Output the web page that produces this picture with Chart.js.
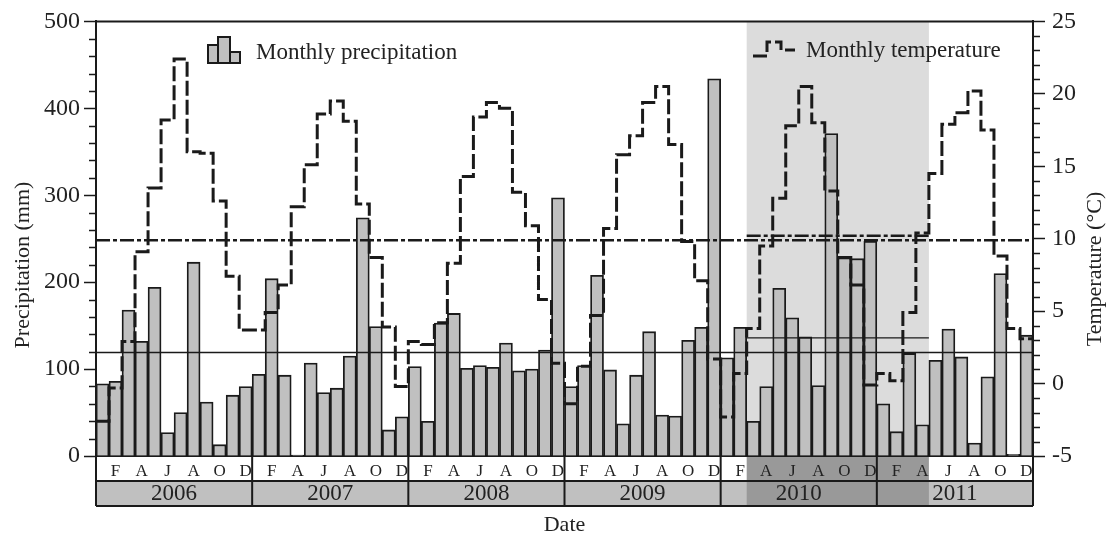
<!DOCTYPE html>
<html>
<head>
<meta charset="utf-8">
<title>Monthly precipitation and temperature 2006-2011</title>
<script src="https://cdn.jsdelivr.net/npm/chart.js@4.4.1/dist/chart.umd.min.js"></script>
<style>
  html, body { margin: 0; padding: 0; background: #fff; }
  #wrap { width: 1110px; height: 540px; }
</style>
</head>
<body>
<div id="wrap"><canvas id="chart" width="1110" height="540"></canvas></div>
<script>
// ===== DATA =====
const years = ['2006', '2007', '2008', '2009', '2010', '2011'];
const monthLetters = ['J', 'F', 'M', 'A', 'M', 'J', 'J', 'A', 'S', 'O', 'N', 'D'];

// monthly precipitation (mm)
const precip2006 = [83, 86, 168, 132, 194, 27, 50, 223, 62, 13, 70, 80];
const precip2007 = [94, 204, 93, 1, 107, 73, 78, 115, 274, 149, 30, 45];
const precip2008 = [103, 40, 153, 164, 101, 104, 102, 130, 98, 100, 122, 297];
const precip2009 = [80, 104, 208, 99, 37, 93, 143, 47, 46, 133, 148, 434];
const precip2010 = [113, 148, 40, 80, 193, 159, 137, 81, 371, 228, 227, 247];
const precip2011 = [60, 28, 118, 36, 110, 146, 114, 15, 91, 210, 2, 139];

// monthly mean temperature (°C)
const temp2006 = [-2.6, -0.3, 2.9, 9.1, 13.5, 18.2, 22.4, 16.0, 15.9, 12.6, 7.4, 3.7];
const temp2007 = [3.7, 4.9, 6.8, 12.2, 15.1, 18.6, 19.5, 18.1, 12.4, 8.7, 3.9, -0.2];
const temp2008 = [2.9, 2.7, 4.2, 8.3, 14.3, 18.4, 19.4, 19.0, 13.2, 10.9, 5.8, 1.4];
const temp2009 = [-1.4, 1.2, 4.7, 10.7, 15.8, 17.1, 19.4, 20.5, 16.5, 9.8, 7.1, 1.7];
const temp2010 = [-2.3, 0.7, 3.8, 9.5, 12.8, 17.8, 20.5, 18.0, 13.3, 8.7, 6.8, -0.1];
const temp2011 = [0.7, 0.2, 4.9, 10.4, 14.5, 17.9, 18.7, 20.2, 17.5, 8.8, 3.8, 3.1];

// long-term means and means of the highlighted period (Mar 2010 - Apr 2011)
const meanPrecip = 119;
const meanTemp = 9.9;
const periodStart = 50;   // month index (0 = Jan 2006)
const periodEnd = 64;
const periodPrecip = 136;
const periodTemp = 10.2;

// ===== BUILD SERIES =====
const precip = [].concat(precip2006, precip2007, precip2008, precip2009, precip2010, precip2011);
const temps = [].concat(temp2006, temp2007, temp2008, temp2009, temp2010, temp2011);
const nMonths = precip.length;

// bars sit in the middle of each month on a linear month axis
const precipBars = precip.map((p, i) => ({ x: i + 0.5, y: p }));
// stepped line: one step per month, closed at the end of the last month
const tempSteps = temps.map((t, i) => ({ x: i, y: t }));
tempSteps.push({ x: nMonths, y: temps[nMonths - 1] });

const FONT = "'Liberation Serif', 'Times New Roman', serif";
const INK = '#1a1a1a';

const hline = (from, to, value) => [{ x: from, y: value }, { x: to, y: value }];

// ===== DRAWING HELPERS (frame, table under the axis, legends) =====
const decorations = {
  id: 'decorations',
  beforeDraw(chart) {
    const ctx = chart.ctx;
    const area = chart.chartArea;
    const x = chart.scales.x;
    const px0 = x.getPixelForValue(periodStart);
    const px1 = x.getPixelForValue(periodEnd);
    ctx.save();
    // shaded period inside the plot
    ctx.fillStyle = '#dcdcdc';
    ctx.fillRect(px0, area.top, px1 - px0, area.bottom - area.top);
    // year row
    ctx.fillStyle = '#c0c0c0';
    ctx.fillRect(area.left, area.bottom + 25, area.right - area.left, 25);
    // shaded period in both rows
    ctx.fillStyle = '#999999';
    ctx.fillRect(px0, area.bottom, px1 - px0, 50);
    ctx.restore();
  },
  afterDraw(chart) {
    const ctx = chart.ctx;
    const area = chart.chartArea;
    const x = chart.scales.x;
    const y = chart.scales.y;
    const y1 = chart.scales.y1;
    ctx.save();
    ctx.strokeStyle = INK;

    // top frame line
    ctx.lineWidth = 2;
    ctx.beginPath();
    ctx.moveTo(area.left, area.top);
    ctx.lineTo(area.right, area.top);
    ctx.stroke();

    // minor ticks
    ctx.lineWidth = 1.5;
    ctx.beginPath();
    y.ticks.forEach(t => {
      if (t.value % 100 === 0) return;
      const py = Math.round(y.getPixelForValue(t.value)) + 0.5;
      ctx.moveTo(area.left - 7, py);
      ctx.lineTo(area.left, py);
    });
    y1.ticks.forEach(t => {
      if (t.value % 5 === 0) return;
      const py = Math.round(y1.getPixelForValue(t.value)) + 0.5;
      ctx.moveTo(area.right, py);
      ctx.lineTo(area.right + 7, py);
    });
    ctx.stroke();

    // table below the plot: month row + year row
    const rowTop = area.bottom;
    const rowMid = area.bottom + 25;
    const rowBot = area.bottom + 50;
    ctx.lineWidth = 2;
    ctx.beginPath();
    ctx.moveTo(area.left, rowMid);
    ctx.lineTo(area.right, rowMid);
    ctx.moveTo(area.left, rowBot);
    ctx.lineTo(area.right, rowBot);
    for (let k = 0; k <= years.length; k++) {
      const px = x.getPixelForValue(k * 12);
      ctx.moveTo(px, rowTop);
      ctx.lineTo(px, rowBot);
    }
    ctx.stroke();

    ctx.fillStyle = '#222';
    ctx.font = '23px ' + FONT;
    ctx.textAlign = 'center';
    ctx.textBaseline = 'middle';
    years.forEach((yr, k) => {
      const cx = (x.getPixelForValue(k * 12) + x.getPixelForValue(k * 12 + 12)) / 2;
      ctx.fillText(yr, cx, rowMid + 13);
    });

    // axis titles (centred on plot + table)
    ctx.font = '22px ' + FONT;
    ctx.save();
    ctx.translate(23, 265);
    ctx.rotate(-Math.PI / 2);
    ctx.fillText('Precipitation (mm)', 0, 0);
    ctx.restore();
    ctx.save();
    ctx.translate(1095, 269);
    ctx.rotate(-Math.PI / 2);
    ctx.fillText('Temperature (°C)', 0, 0);
    ctx.restore();

    // legend: precipitation glyph
    ctx.fillStyle = '#c0c0c0';
    ctx.strokeStyle = INK;
    ctx.lineWidth = 2;
    [[208, 45, 10], [218, 37, 12], [230, 52, 10]].forEach(([bx, by, bw]) => {
      ctx.fillRect(bx, by, bw, 63 - by);
      ctx.strokeRect(bx, by, bw, 63 - by);
    });
    // legend: temperature glyph
    ctx.lineWidth = 3;
    ctx.setLineDash([14, 4]);
    ctx.beginPath();
    ctx.moveTo(753, 56);
    ctx.lineTo(767, 56);
    ctx.lineTo(767, 42);
    ctx.lineTo(781, 42);
    ctx.lineTo(781, 50);
    ctx.lineTo(795, 50);
    ctx.stroke();
    ctx.setLineDash([]);

    ctx.fillStyle = '#222';
    ctx.font = '23px ' + FONT;
    ctx.textAlign = 'left';
    ctx.textBaseline = 'alphabetic';
    ctx.fillText('Monthly precipitation', 256, 59);
    ctx.fillText('Monthly temperature', 806, 57);
    ctx.restore();
  }
};

// ===== CHART =====
const chart = new Chart(document.getElementById('chart'), {
  type: 'bar',
  data: {
    datasets: [
      {
        label: 'Monthly precipitation',
        data: precipBars,
        yAxisID: 'y',
        backgroundColor: '#c0c0c0',
        borderColor: INK,
        borderWidth: 1.8,
        grouped: false,
        barPercentage: 1,
        categoryPercentage: 1,
        order: 5
      },
      {
        type: 'line',
        label: 'Monthly temperature',
        data: tempSteps,
        yAxisID: 'y1',
        stepped: true,
        borderColor: INK,
        borderWidth: 3,
        borderDash: [15, 4],
        pointRadius: 0,
        fill: false,
        order: 1
      },
      {
        type: 'line',
        label: 'Mean precipitation',
        data: hline(0, nMonths, meanPrecip),
        yAxisID: 'y',
        borderColor: INK,
        borderWidth: 1.5,
        pointRadius: 0,
        order: 2
      },
      {
        type: 'line',
        label: 'Mean temperature',
        data: hline(0, nMonths, meanTemp),
        yAxisID: 'y1',
        borderColor: INK,
        borderWidth: 2.5,
        borderDash: [14, 3, 4, 3],
        pointRadius: 0,
        order: 2
      },
      {
        type: 'line',
        label: 'Period precipitation',
        data: hline(periodStart, periodEnd, periodPrecip),
        yAxisID: 'y',
        borderColor: INK,
        borderWidth: 1.2,
        pointRadius: 0,
        order: 2
      },
      {
        type: 'line',
        label: 'Period temperature',
        data: hline(periodStart, periodEnd, periodTemp),
        yAxisID: 'y1',
        borderColor: INK,
        borderWidth: 2.5,
        borderDash: [14, 3, 4, 3],
        pointRadius: 0,
        order: 2
      }
    ]
  },
  options: {
    responsive: false,
    animation: false,
    devicePixelRatio: 1,
    layout: { padding: 0 },
    plugins: {
      legend: { display: false },
      tooltip: { enabled: false }
    },
    scales: {
      x: {
        type: 'linear',
        min: 0,
        max: nMonths,
        offset: false,
        grid: { display: false },
        border: { display: true, color: INK, width: 2 },
        // one tick in the middle of every month
        afterBuildTicks: s => { s.ticks = precip.map((p, i) => ({ value: i + 0.5 })); },
        ticks: {
          autoSkip: false,
          maxRotation: 0,
          padding: -3,
          color: '#222',
          font: { family: FONT, size: 17 },
          callback: (val, idx) => (idx % 2 === 1 ? monthLetters[idx % 12] : '')
        },
        title: {
          display: true,
          text: 'Date',
          color: '#222',
          font: { family: FONT, size: 22 },
          padding: { top: 0, bottom: 2 }
        },
        afterFit: s => { s.height = 84; }
      },
      y: {
        position: 'left',
        min: 0,
        max: 500,
        grid: {
          drawOnChartArea: false,
          tickLength: 12,
          tickWidth: 1.5,
          tickColor: c => (c.tick && c.tick.value % 100 === 0 ? INK : 'rgba(0,0,0,0)')
        },
        border: { color: INK, width: 2 },
        ticks: {
          stepSize: 20,
          autoSkip: false,
          padding: 4,
          color: '#222',
          font: { family: FONT, size: 24 },
          callback: v => (v % 100 === 0 ? v : '')
        },
        afterFit: s => { s.width = 96; }
      },
      y1: {
        position: 'right',
        min: -5,
        max: 25,
        grid: {
          drawOnChartArea: false,
          tickLength: 12,
          tickWidth: 1.5,
          tickColor: c => (c.tick && c.tick.value % 5 === 0 ? INK : 'rgba(0,0,0,0)')
        },
        border: { color: INK, width: 2 },
        ticks: {
          stepSize: 1,
          autoSkip: false,
          padding: 7,
          color: '#222',
          font: { family: FONT, size: 24 },
          callback: v => (v % 5 === 0 ? v : '')
        },
        afterFit: s => { s.width = 77; }
      }
    }
  },
  plugins: [decorations]
});
</script>
</body>
</html>
